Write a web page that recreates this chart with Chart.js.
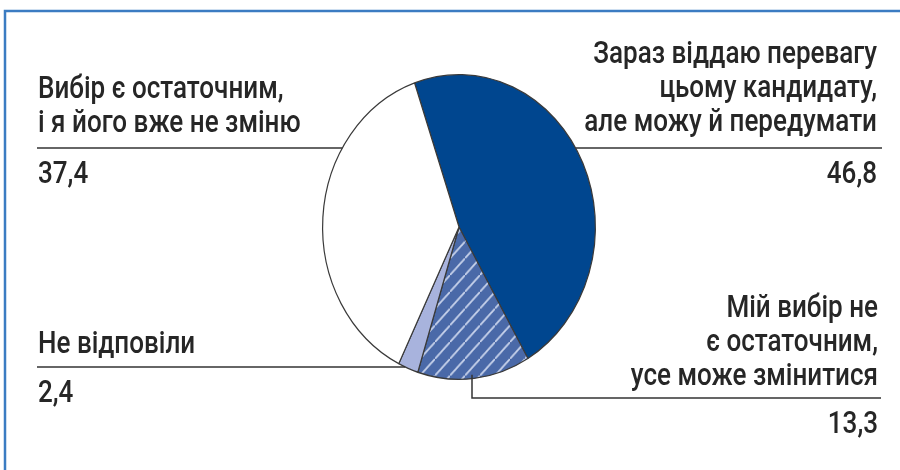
<!DOCTYPE html>
<html lang="uk">
  <head>
    <meta charset="UTF-8" />
    <script src="https://cdn.jsdelivr.net/npm/chart.js@4.4.0/dist/chart.umd.min.js"></script>
    <title>Вибір кандидата</title>
    <style>
      body {
        margin: 0;
        padding: 0;
        background: #fff;
      }
      .container {
        width: 900px;
        height: 470px;
      }
    </style>
  </head>
  <body>
    <div class="container">
      <canvas id="pieChart" width="900" height="470"></canvas>
    </div>
    <script>
      // slices go clockwise from the top
      const categories = [
        ['Зараз віддаю перевагу', 'цьому кандидату,', 'але можу й передумати'],
        ['Мій вибір не', 'є остаточним,', 'усе може змінитися'],
        ['Не відповіли'],
        ['Вибір є остаточним,', 'і я його вже не зміню'],
      ]
      const values = [46.8, 13.3, 2.4, 37.4]

      const FONT = '500 31px Roboto, sans-serif'
      const NARROW = 0.84 // squeeze text to look condensed
      const TEXT_COLOR = '#262626'
      const STRETCH = 1.117 // the pie is a bit taller than wide

      // where each label sits
      const labelLayout = [
        { align: 'right', x: 877, top: 63, lineY: 148, lineEnd: 882 },
        { align: 'right', x: 878, top: 317, lineY: 398, lineEnd: 881, elbowX: 472 },
        { align: 'left', x: 38, top: 353, lineY: 367, lineEnd: 37 },
        { align: 'left', x: 38, top: 98, lineY: 148, lineEnd: 37 },
      ]

      const hatch = (() => {
        const s = 15
        const c = document.createElement('canvas')
        c.width = s
        c.height = s
        const g = c.getContext('2d')
        g.fillStyle = '#4a69a8'
        g.fillRect(0, 0, s, s)
        g.strokeStyle = 'rgba(225,232,248,0.85)'
        g.lineWidth = 1.6
        g.beginPath()
        g.moveTo(-1, s + 1)
        g.lineTo(s + 1, -1)
        g.stroke()
        return g.createPattern(c, 'repeat')
      })()

      const ellipse = {
        id: 'ellipse',
        beforeDraw(chart) {
          const ctx = chart.ctx
          ctx.save()
          ctx.fillStyle = '#fff'
          ctx.fillRect(0, 0, chart.width, chart.height)
          ctx.strokeStyle = '#3b7cc2'
          ctx.lineWidth = 2.5
          ctx.beginPath()
          ctx.moveTo(chart.width, 11)
          ctx.lineTo(5, 11)
          ctx.lineTo(5, chart.height)
          ctx.stroke()
          ctx.restore()
        },
        beforeDatasetsDraw(chart) {
          const arc = chart.getDatasetMeta(0).data[0]
          const ctx = chart.ctx
          ctx.save()
          ctx.translate(arc.x, arc.y)
          ctx.scale(1, STRETCH)
          ctx.translate(-arc.x, -arc.y)
        },
        afterDatasetsDraw(chart) {
          chart.ctx.restore()
        },
      }

      const drawText = (ctx, text, x, y, align) => {
        ctx.save()
        ctx.translate(x, y)
        ctx.scale(NARROW, 1)
        ctx.textAlign = align
        ctx.fillText(text, 0, 0)
        ctx.restore()
      }

      const labels = {
        id: 'labels',
        afterDraw(chart) {
          const ctx = chart.ctx
          const arc = chart.getDatasetMeta(0).data[0]
          const cx = arc.x
          const cy = arc.y
          const rx = arc.outerRadius
          const ry = arc.outerRadius * STRETCH
          const edgeX = (y, side) => {
            const t = (y - cy) / ry
            return cx + side * rx * Math.sqrt(Math.max(0, 1 - t * t))
          }
          ctx.save()
          ctx.font = FONT
          ctx.fillStyle = TEXT_COLOR
          ctx.strokeStyle = '#333'
          ctx.lineWidth = 1.5
          ctx.textBaseline = 'alphabetic'
          categories.forEach((lines, i) => {
            const l = labelLayout[i]
            lines.forEach((line, k) => {
              drawText(ctx, line, l.x, l.top + k * 34, l.align)
            })
            drawText(ctx, values[i].toFixed(1).replace('.', ','), l.x, l.lineY + 35, l.align)
            ctx.beginPath()
            if (l.elbowX !== undefined) {
              const t = (l.elbowX - cx) / rx
              const yEdge = cy + ry * Math.sqrt(1 - t * t)
              ctx.moveTo(l.elbowX, yEdge - 4)
              ctx.lineTo(l.elbowX, l.lineY)
              ctx.lineTo(l.lineEnd, l.lineY)
            } else {
              const side = l.align === 'right' ? 1 : -1
              ctx.moveTo(edgeX(l.lineY, side), l.lineY)
              ctx.lineTo(l.lineEnd, l.lineY)
            }
            ctx.stroke()
          })
          ctx.restore()
        },
      }

      new Chart(document.getElementById('pieChart'), {
        type: 'pie',
        data: {
          labels: categories.map((c) => c.join(' ')),
          datasets: [
            {
              data: values,
              backgroundColor: ['#00468f', hatch, '#a8b3dd', '#ffffff'],
              borderColor: '#3a3a3a',
              borderWidth: 1.2,
            },
          ],
        },
        options: {
          responsive: false,
          animation: false,
          events: [],
          rotation: -19,
          layout: {
            padding: { left: 322, right: 304, top: 90, bottom: 106 },
          },
          plugins: {
            legend: { display: false },
            tooltip: { enabled: false },
          },
        },
        plugins: [ellipse, labels],
      })
    </script>
  </body>
</html>
